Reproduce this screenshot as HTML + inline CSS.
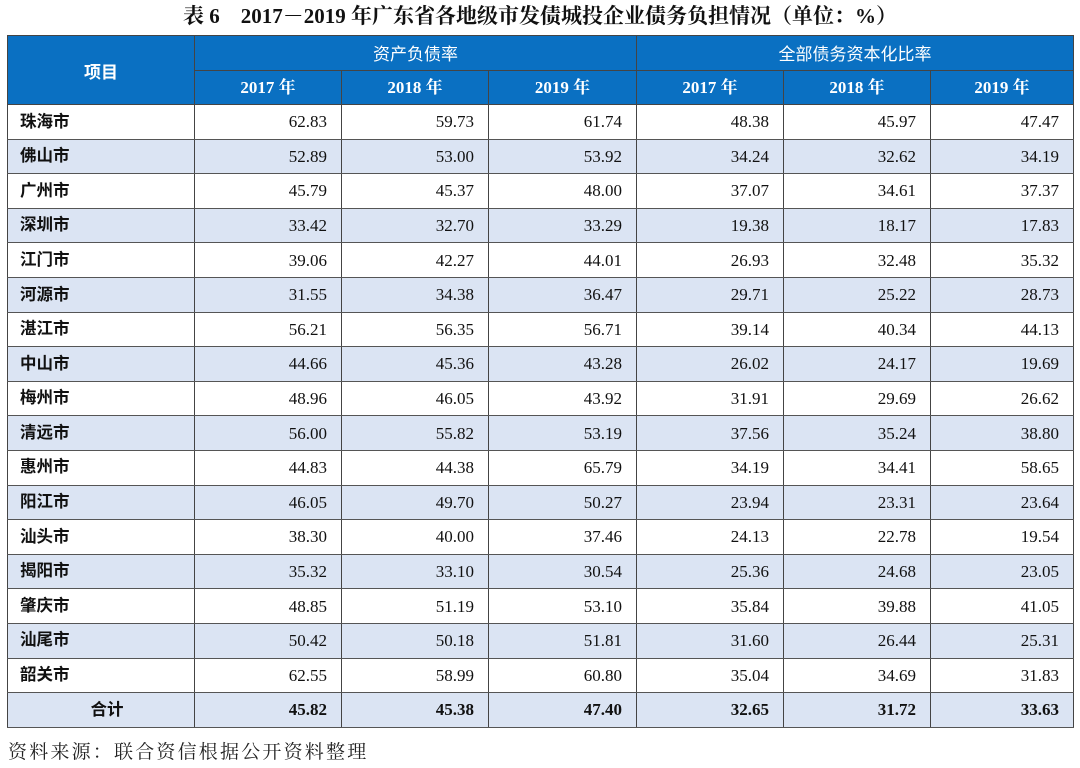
<!DOCTYPE html>
<html><head><meta charset="utf-8"><style>
body{margin:0;width:1080px;height:768px;background:#fff;font-family:"Liberation Serif","Noto Serif CJK SC",serif;overflow:hidden;position:relative}
.title{position:absolute;top:3px;left:0;width:1080px;text-align:center;font-size:21px;font-weight:bold;color:#111;line-height:26px}
table{position:absolute;left:7px;top:35px;border-collapse:collapse;table-layout:fixed;width:1066px}
td,th{border:1.5px solid #444;padding:0;height:33.6px;font-size:17px;color:#111;line-height:1}
th{background:#0a70c2;color:#fff;font-weight:bold;font-size:17px;height:33.5px}
td{text-align:right;padding-right:14px;border-left:1.5px solid #444;border-right:1.5px solid #444;border-top:1.5px solid #555;border-bottom:1.5px solid #555}
td.n{text-align:left;padding-left:12px;padding-right:0;font-family:"Noto Sans CJK SC",sans-serif;font-weight:bold;font-size:16.5px;line-height:1}
td.n span{position:relative;top:-2px}
tr.a td{background:#dbe4f3}
tr.t td{font-weight:bold}
tr.t td.n{text-align:center}
.src{position:absolute;left:8px;top:737px;font-size:19px;font-family:"Noto Serif CJK SC",serif;color:#222;letter-spacing:2.2px}
</style></head><body>
<div class="title">表 6　2017－2019 年广东省各地级市发债城投企业债务负担情况（单位：%）</div>
<table>
<colgroup><col style="width:187px"><col style="width:147px"><col style="width:147px"><col style="width:148px"><col style="width:147px"><col style="width:147px"><col style="width:143px"></colgroup>
<tr><th rowspan="2" style="font-family:'Noto Sans CJK SC',sans-serif">项目</th><th colspan="3" style="font-family:'Noto Sans CJK SC',sans-serif;font-weight:normal">资产负债率</th><th colspan="3" style="font-family:'Noto Sans CJK SC',sans-serif;font-weight:normal">全部债务资本化比率</th></tr>
<tr><th>2017 年</th><th>2018 年</th><th>2019 年</th><th>2017 年</th><th>2018 年</th><th>2019 年</th></tr>
<tr><td class="n"><span>珠海市</span></td><td>62.83</td><td>59.73</td><td>61.74</td><td>48.38</td><td>45.97</td><td>47.47</td></tr>
<tr class="a"><td class="n"><span>佛山市</span></td><td>52.89</td><td>53.00</td><td>53.92</td><td>34.24</td><td>32.62</td><td>34.19</td></tr>
<tr><td class="n"><span>广州市</span></td><td>45.79</td><td>45.37</td><td>48.00</td><td>37.07</td><td>34.61</td><td>37.37</td></tr>
<tr class="a"><td class="n"><span>深圳市</span></td><td>33.42</td><td>32.70</td><td>33.29</td><td>19.38</td><td>18.17</td><td>17.83</td></tr>
<tr><td class="n"><span>江门市</span></td><td>39.06</td><td>42.27</td><td>44.01</td><td>26.93</td><td>32.48</td><td>35.32</td></tr>
<tr class="a"><td class="n"><span>河源市</span></td><td>31.55</td><td>34.38</td><td>36.47</td><td>29.71</td><td>25.22</td><td>28.73</td></tr>
<tr><td class="n"><span>湛江市</span></td><td>56.21</td><td>56.35</td><td>56.71</td><td>39.14</td><td>40.34</td><td>44.13</td></tr>
<tr class="a"><td class="n"><span>中山市</span></td><td>44.66</td><td>45.36</td><td>43.28</td><td>26.02</td><td>24.17</td><td>19.69</td></tr>
<tr><td class="n"><span>梅州市</span></td><td>48.96</td><td>46.05</td><td>43.92</td><td>31.91</td><td>29.69</td><td>26.62</td></tr>
<tr class="a"><td class="n"><span>清远市</span></td><td>56.00</td><td>55.82</td><td>53.19</td><td>37.56</td><td>35.24</td><td>38.80</td></tr>
<tr><td class="n"><span>惠州市</span></td><td>44.83</td><td>44.38</td><td>65.79</td><td>34.19</td><td>34.41</td><td>58.65</td></tr>
<tr class="a"><td class="n"><span>阳江市</span></td><td>46.05</td><td>49.70</td><td>50.27</td><td>23.94</td><td>23.31</td><td>23.64</td></tr>
<tr><td class="n"><span>汕头市</span></td><td>38.30</td><td>40.00</td><td>37.46</td><td>24.13</td><td>22.78</td><td>19.54</td></tr>
<tr class="a"><td class="n"><span>揭阳市</span></td><td>35.32</td><td>33.10</td><td>30.54</td><td>25.36</td><td>24.68</td><td>23.05</td></tr>
<tr><td class="n"><span>肇庆市</span></td><td>48.85</td><td>51.19</td><td>53.10</td><td>35.84</td><td>39.88</td><td>41.05</td></tr>
<tr class="a"><td class="n"><span>汕尾市</span></td><td>50.42</td><td>50.18</td><td>51.81</td><td>31.60</td><td>26.44</td><td>25.31</td></tr>
<tr><td class="n"><span>韶关市</span></td><td>62.55</td><td>58.99</td><td>60.80</td><td>35.04</td><td>34.69</td><td>31.83</td></tr>
<tr class="a t"><td class="n"><span>合计</span></td><td>45.82</td><td>45.38</td><td>47.40</td><td>32.65</td><td>31.72</td><td>33.63</td></tr>
</table>
<div class="src">资料来源：联合资信根据公开资料整理</div>
</body></html>
